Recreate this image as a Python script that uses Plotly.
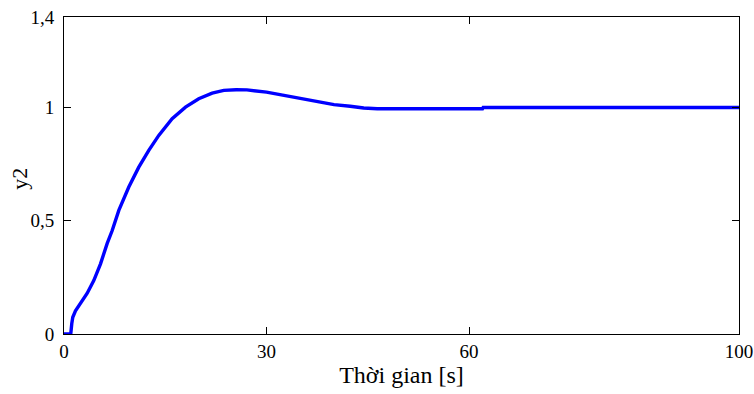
import plotly.graph_objects as go

time_s = [0, 1.0, 1.15, 1.3, 1.7, 2.44, 3.44, 4.41, 5.41, 6.4, 7.14, 8.12, 9.6, 11.08,
          12.56, 14.04, 16.02, 18.0, 19.96, 21.95, 23.67, 25.5, 27.1, 30.0, 32.6, 35.0,
          37.5, 40.0, 42.4, 44.4, 46.4, 50, 55, 62.0, 62.1, 70, 80, 90, 100]
y2 = [0, 0, 0.045, 0.074, 0.102, 0.135, 0.18, 0.236, 0.31, 0.40, 0.457, 0.546, 0.649,
      0.737, 0.811, 0.877, 0.951, 1.002, 1.039, 1.064, 1.076, 1.079, 1.078, 1.068, 1.054,
      1.04, 1.024, 1.013, 1.006, 0.998, 0.995, 0.995, 0.995, 0.995, 1.0, 1.0, 1.0, 1.0, 1.0]

x_ticks = [0, 30, 60, 100]
x_tick_text = ["0", "30", "60", "100"]
y_ticks = [0, 0.5, 1, 1.4]
y_tick_text = ["0", "0,5", "1", "1,4"]

FAM = "Liberation Serif"

fig = go.Figure()
fig.add_trace(go.Scatter(x=time_s, y=y2, mode="lines",
                         line=dict(color="#0000ff", width=3.4),
                         showlegend=False))

fig.update_layout(
    width=754, height=394,
    margin=dict(l=64, r=15, t=17, b=60),
    paper_bgcolor="white", plot_bgcolor="white",
    font=dict(family=FAM, size=18, color="black"),
)
fig.update_xaxes(
    range=[0, 100], tickvals=x_ticks, ticktext=x_tick_text, automargin=False,
    showline=True, linecolor="black", linewidth=1, mirror="ticks",
    ticks="inside", ticklen=7, tickcolor="black", showgrid=False, zeroline=False,
    title=dict(text="Thời gian [s]", font=dict(family=FAM, size=24, color="black"), standoff=4),
    tickfont=dict(family=FAM, size=19, color="black"),
)
fig.update_yaxes(
    range=[0, 1.4], tickvals=y_ticks, ticktext=y_tick_text, automargin=False,
    showline=True, linecolor="black", linewidth=1, mirror="ticks",
    ticks="inside", ticklen=7, tickcolor="black", showgrid=False, zeroline=False,
    ticklabelstandoff=5,
    tickfont=dict(family=FAM, size=19, color="black"),
)
# y-axis title placed as a rotated annotation so its position can be set exactly
fig.add_annotation(
    text="y2", xref="paper", yref="paper", x=0, y=0.49,
    xanchor="center", yanchor="middle", xshift=-44, textangle=-90,
    showarrow=False, font=dict(family=FAM, size=22, color="black"),
)

fig.write_html("out.html")
